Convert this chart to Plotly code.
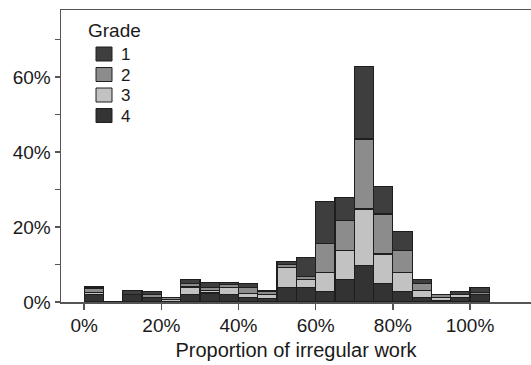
import plotly.graph_objects as go

# Bin centres (proportion of irregular work, %), 5%-wide bins
bin_centers = [2.5, 7.5, 12.5, 17.5, 22.5, 27.5, 32.5, 37.5, 42.5, 47.5,
               52.5, 57.5, 62.5, 67.5, 72.5, 77.5, 82.5, 87.5, 92.5, 97.5, 102.5]

grades = ["1", "2", "3", "4"]
grade4 = [1.9, 0, 2.1, 1.3, 0, 2.0, 2.4, 2.0, 1.3, 1.0, 3.9, 3.9, 2.8, 5.9, 9.8, 5.0, 2.8, 1.1, 0.4, 1.3, 2.0]
grade3 = [0.7, 0, 0, 0, 0.7, 2.0, 0.7, 1.8, 0.9, 1.0, 5.2, 2.2, 5.1, 7.8, 15.0, 7.8, 5.1, 2.0, 0.7, 0.7, 0]
grade2 = [1.0, 0, 0, 0.7, 0.5, 0.9, 0.8, 0.9, 1.6, 0.8, 0.9, 0.8, 7.7, 8.0, 18.7, 10.7, 5.8, 1.8, 0.8, 0, 0.6]
grade1 = [0.4, 0, 0.9, 0.9, 0, 1.2, 1.2, 0.4, 1.2, 0.3, 0.9, 4.9, 11.2, 6.2, 19.4, 7.4, 5.2, 1.1, 0, 0.8, 1.3]

x_tick_vals = [0, 20, 40, 60, 80, 100]
x_tick_text = ["0%", "20%", "40%", "60%", "80%", "100%"]
y_tick_vals = [0, 10, 20, 30, 40, 50, 60, 70]
y_tick_text = ["0%", "", "20%", "", "40%", "", "60%", ""]

colors = {"1": "#3e3e3e", "2": "#8c8c8c", "3": "#c2c2c2", "4": "#333333"}
series = {"1": grade1, "2": grade2, "3": grade3, "4": grade4}

FONT = "Liberation Sans, Arial, sans-serif"
W, H = 541, 365
L, R, T, B = 61, 10, 10, 63

fig = go.Figure()
for g in ["4", "3", "2", "1"]:
    fig.add_trace(go.Bar(
        x=bin_centers, y=series[g], width=5, name=g,
        marker=dict(color=colors[g], line=dict(color="#1e1e1e", width=1.2)),
        showlegend=False,
    ))

# Manual legend (paper coordinates)
pw, ph = W - L - R, H - T - B
def px(x):
    return (x - L) / pw
def py(y):
    return (H - B - y) / ph

shapes = []
annotations = [dict(x=px(86), y=py(31), xref="paper", yref="paper", text="Grade",
                    showarrow=False, xanchor="left", yanchor="middle",
                    font=dict(size=19, color="#1a1a1a", family=FONT))]
centers = [54, 74.5, 95, 115.5]
for g, cy in zip(grades, centers):
    shapes.append(dict(type="rect", xref="paper", yref="paper",
                       x0=px(96), x1=px(112), y0=py(cy + 7), y1=py(cy - 7),
                       fillcolor=colors[g], line=dict(color="#1e1e1e", width=1)))
    annotations.append(dict(x=px(119), y=py(cy + 1), xref="paper", yref="paper", text=g,
                            showarrow=False, xanchor="left", yanchor="middle",
                            font=dict(size=17, color="#1a1a1a", family=FONT)))

fig.update_layout(
    width=W, height=H,
    margin=dict(l=L, r=R, t=T, b=B, autoexpand=False),
    barmode="stack", bargap=0,
    plot_bgcolor="white", paper_bgcolor="white",
    font=dict(family=FONT, size=19, color="#1a1a1a"),
    shapes=shapes, annotations=annotations,
    xaxis=dict(range=[-6, 115.8], tickvals=x_tick_vals, ticktext=x_tick_text,
               ticks="outside", ticklen=6, tickwidth=1.5, tickcolor="#555555",
               showline=True, linecolor="#555555", linewidth=1.5, mirror=True,
               showgrid=False, zeroline=False, automargin=False,
               tickfont=dict(size=19),
               title=dict(text="Proportion of irregular work", standoff=7,
                          font=dict(size=20))),
    yaxis=dict(range=[0, 77.9], tickvals=y_tick_vals, ticktext=y_tick_text,
               ticks="outside", ticklen=5, tickwidth=1.5, tickcolor="#555555",
               showline=True, linecolor="#555555", linewidth=1.5,
               showgrid=False, zeroline=False, automargin=False,
               tickfont=dict(size=19)),
)

fig.write_html("out.html",
               config={"displayModeBar": False, "staticPlot": True},
               post_script="document.body.style.margin='0';document.body.style.overflow='hidden';")
